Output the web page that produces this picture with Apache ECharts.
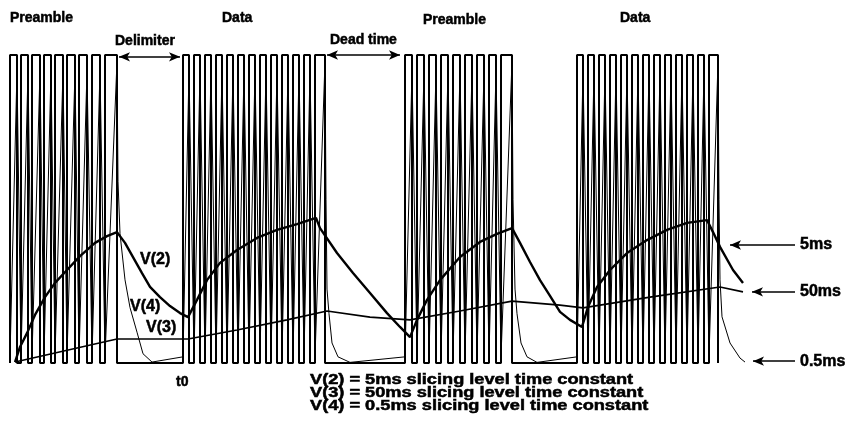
<!DOCTYPE html>
<html style="height: 100%">
<head>
  <meta charset="utf-8" />
  <title>Slicing level time constants</title>
  <script src="https://cdn.jsdelivr.net/npm/echarts@6/dist/echarts.min.js"></script>
</head>
<body style="height: 100%; margin: 0; background: #fff">
  <div id="chart" style="width: 852px; height: 430px"></div>
  <script>
    // time in arbitrary units, level in % of the pulse height
    const LOW = 0, HIGH = 100;

    // pulse [rise, fall] times of each burst
    const preamble1 = [[0.5, 1.2], [1.6, 2.3], [2.7, 3.5], [3.9, 4.6], [5.0, 5.8], [6.2, 7.0], [7.4, 8.2], [8.7, 9.5], [10.0, 11.2]];
    const data1 = [[17.8, 18.4], [18.9, 19.5], [20.0, 20.6], [21.1, 21.7], [22.2, 22.8], [23.3, 23.9], [24.4, 25.0], [25.5, 26.1], [26.6, 27.2], [27.7, 28.3], [28.8, 29.4], [29.9, 30.5], [31.0, 32.0]];
    const preamble2 = [[40.0, 40.7], [41.2, 41.9], [42.4, 43.1], [43.6, 44.3], [44.8, 45.5], [46.0, 46.7], [47.2, 47.9], [48.4, 49.1], [49.6, 50.7]];
    const data2 = [[57.2, 57.8], [58.3, 58.9], [59.4, 60.0], [60.5, 61.1], [61.6, 62.2], [62.7, 63.3], [63.8, 64.4], [64.9, 65.5], [66.0, 66.6], [67.1, 67.7], [68.2, 68.8], [69.3, 69.9], [70.4, 71.3]];

    // V(2): 5ms slicing level
    const v2 = [[1.0, 0.3], [1.5, 5.2], [2.2, 9.7], [3.0, 15.6], [4.0, 21.4], [5.0, 26.0], [6.2, 30.2], [7.5, 34.7], [9.0, 39.0], [10.2, 41.2], [11.2, 42.5],
      [12.0, 39.0], [12.8, 34.4], [13.7, 29.2], [14.5, 24.7], [15.5, 21.4], [16.5, 18.5], [17.5, 16.2], [18.3, 14.9],
      [19.2, 20.5], [20.2, 26.9], [21.5, 32.5], [23.2, 36.7], [25.2, 40.6], [27.2, 43.2], [29.2, 45.1], [31.1, 47.1],
      [31.5, 43.8], [33.2, 35.7], [34.8, 29.2], [36.5, 22.7], [38.2, 16.2], [39.5, 11.7], [40.5, 8.4],
      [41.2, 14.0], [42.2, 20.5], [43.5, 26.9], [45.5, 34.4], [47.5, 39.3], [49.2, 41.9], [50.7, 43.8],
      [51.5, 39.0], [52.5, 32.8], [53.5, 26.9], [54.5, 21.8], [55.5, 16.6], [56.5, 14.0], [57.7, 11.7],
      [58.3, 18.2], [59.2, 24.7], [60.5, 30.2], [62.2, 35.7], [64.2, 39.9], [66.2, 43.2], [68.2, 45.5], [70.2, 46.4],
      [70.8, 42.5], [71.5, 37.7], [72.8, 30.2], [73.8, 26.0]];

    // V(3): 50ms slicing level
    const v3 = [[1.0, 0.3], [11.2, 7.8], [18.3, 7.8], [23.2, 10.7], [28.2, 14.0], [32.2, 16.9], [36.5, 14.9], [40.5, 14.0],
      [45.5, 16.9], [50.7, 20.1], [55.5, 18.8], [57.8, 17.9], [64.5, 21.4], [71.5, 24.7], [73.8, 23.1]];

    // V(4): 0.5ms slicing level, follows the pulses; decay after each burst
    const V4_LOW = 2, V4_HIGH = 95;
    const v4Decay1 = [[11.2, 98], [11.3, 59], [11.5, 42], [12.0, 27], [12.5, 18], [13.2, 10], [13.8, 3], [14.7, 0.3]];
    const v4Decay2 = [[32.0, 98], [32.1, 53], [32.2, 24], [32.4, 16], [32.7, 6.5], [33.3, 2], [34.5, 0.2]];
    const v4Decay3 = [[50.7, 98], [50.8, 53], [51.0, 24], [51.2, 16], [51.6, 6.5], [52.2, 2], [53.2, 0.2]];
    const v4Decay4 = [[71.3, 98], [71.4, 53], [71.5, 27], [71.7, 15], [72.5, 6.5], [73.5, 1.6], [74.0, 0.3]];

    const bursts = [preamble1, data1, preamble2, data2];
    const decays = [v4Decay1, v4Decay2, v4Decay3, v4Decay4];

    const wave = [];
    bursts.forEach(b => b.forEach(([r, f]) => {
      wave.push([r, LOW], [r, HIGH], [f, HIGH], [f, LOW]);
    }));

    const v4 = [];
    bursts.forEach((b, i) => {
      b.forEach(([r, f], j) => {
        v4.push([r, V4_LOW]);
        if (j < b.length - 1) v4.push([f, V4_HIGH]);
      });
      v4.push(...decays[i]);
    });

    const font = '"Liberation Sans", Arial, sans-serif';
    const txt = (text, x, y, size, extra) => Object.assign({
      type: 'text', x: x, y: y, silent: true,
      style: {
        text: text, font: 'bold ' + size + 'px ' + font, fill: '#000',
        stroke: '#000', lineWidth: 0.5, textAlign: 'left', textVerticalAlign: 'middle'
      }
    }, extra || {});

    const arrowLine = (x1, x2, y, both) => [
      { coord: [x1, y], symbol: 'arrow' },
      { coord: [x2, y], symbol: both ? 'arrow' : 'none' }
    ];

    var chart = echarts.init(document.getElementById('chart'));
    chart.setOption({
      animation: false,
      backgroundColor: '#fff',
      grid: { left: 5, right: 7, top: 55, bottom: 67 },
      xAxis: { type: 'value', min: 0, max: 84, show: false },
      yAxis: { type: 'value', min: 0, max: 100, show: false },
      series: [
        {
          type: 'line', data: wave, symbol: 'none', clip: false,
          lineStyle: { color: '#000', width: 2 },
          markLine: {
            silent: true, symbolSize: [7, 11], label: { show: false },
            lineStyle: { color: '#000', width: 1.5, type: 'solid' },
            data: [
              arrowLine(11.4, 17.5, 99.4, true),
              arrowLine(32.2, 39.5, 100, true),
              arrowLine(72.5, 79.0, 38.3),
              arrowLine(74.7, 79.0, 23.1),
              arrowLine(74.8, 79.0, 0.6)
            ]
          }
        },
        { type: 'line', data: v4, symbol: 'none', lineStyle: { color: '#000', width: 1 } },
        { type: 'line', data: v3, symbol: 'none', lineStyle: { color: '#000', width: 1.6 } },
        { type: 'line', data: v2, symbol: 'none', lineStyle: { color: '#000', width: 2.4 } }
      ],
      graphic: [
        txt('Preamble', 10, 18, 14),
        txt('Data', 222, 18, 14),
        txt('Preamble', 423, 20, 14),
        txt('Data', 620, 18, 14),
        txt('Delimiter', 115, 41, 14),
        txt('Dead time', 330, 40, 14),
        txt('V(2)', 140, 260, 16),
        txt('V(4)', 130, 307, 16),
        txt('V(3)', 146, 328, 16),
        txt('t0', 176, 382, 14),
        txt('5ms', 800, 245, 16),
        txt('50ms', 800, 292, 16),
        txt('0.5ms', 800, 362, 16),
        txt('V(2) = 5ms slicing level time constant', 310, 380, 14, { scaleX: 1.3 }),
        txt('V(3) = 50ms slicing level time constant', 310, 393, 14, { scaleX: 1.3 }),
        txt('V(4) = 0.5ms slicing level time constant', 310, 406, 14, { scaleX: 1.3 })
      ]
    });
  </script>
</body>
</html>
